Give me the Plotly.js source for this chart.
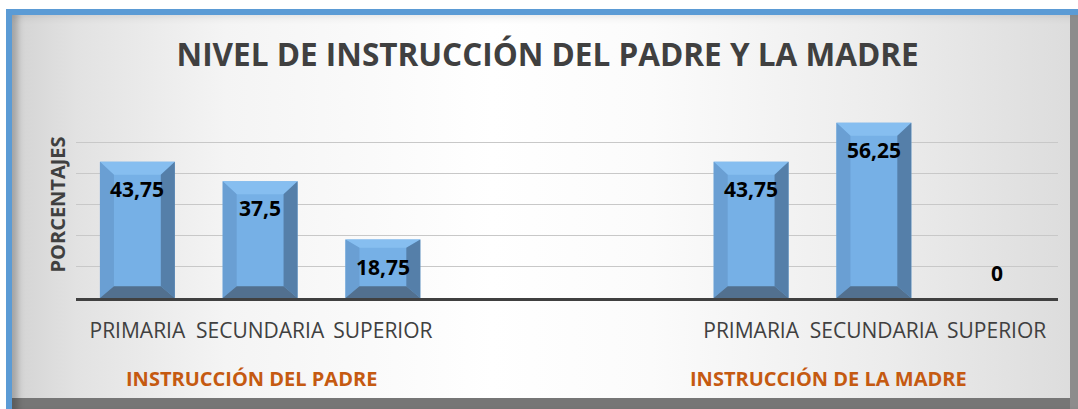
<!DOCTYPE html>
<html>
<head>
<meta charset="utf-8">
<script src="https://cdn.plot.ly/plotly-3.0.1.min.js"></script>
<style>
  html, body { margin:0; padding:0; background:#ffffff; }
  body { width:1078px; height:409px; position:relative; overflow:hidden; }
  #frame { position:absolute; left:6px; top:9px; width:1072px; height:400px; background:#5B9BD5; }
  #panel { position:absolute; left:6px; top:6px; right:0; bottom:0;
    background: linear-gradient(to right, #d3d3d3 0%, #e2e2e2 6%, #f4f4f4 20%, #ffffff 45%, #fbfbfb 60%, #ececec 82%, #dcdcdc 100%);
    box-shadow: inset 10px 0 6px -4px rgba(0,0,0,0.22), inset -8px 0 0 0 #8c8c8c, inset 0 -11px 0 0 #767676, inset 0 8px 6px -4px rgba(0,0,0,0.06);
  }
  #chart { position:absolute; left:0; top:0; width:1078px; height:409px; }
</style>
</head>
<body>
<div id="frame"><div id="panel"></div></div>
<div id="chart"></div>
<script>
// ---- data ----
const categories = ["PRIMARIA", "SECUNDARIA", "SUPERIOR", "", "", "PRIMARIA", "SECUNDARIA", "SUPERIOR"];
const padreValues = [43.75, 37.5, 18.75];
const madreValues = [43.75, 56.25, 0];
const groupLabels = ["INSTRUCCIÓN DEL PADRE", "INSTRUCCIÓN DE LA MADRE"];
const chartTitle = "NIVEL DE INSTRUCCIÓN DEL PADRE Y LA MADRE";
const yTitle = "PORCENTAJES";

// slot positions on the category axis (two empty slots between groups)
const padreX = [0, 1, 2];
const madreX = [5, 6, 7];
const xs = padreX.concat(madreX);
const vals = padreValues.concat(madreValues);
const tickX = xs;
const tickText = [categories[0], categories[1], categories[2], categories[5], categories[6], categories[7]];

// bevel geometry (in axis units)
const hw = 0.305, sx = 0.114, by = 3.8;
function poly(fn) {
  const X = [], Y = [];
  xs.forEach((x0, i) => {
    const v = vals[i];
    if (v <= 0) return;
    const ty = Math.min(4.2, v * 0.14);
    const g = {L: x0 - hw, R: x0 + hw, iL: x0 - hw + sx, iR: x0 + hw - sx, T: v, iT: v - ty, B: 0, iB: by};
    fn(g).forEach(p => { X.push(p[0]); Y.push(p[1]); });
    X.push(null); Y.push(null);
  });
  return {X, Y};
}
function bevelTrace(fn, color) {
  const p = poly(fn);
  return {type:'scatter', mode:'lines', x:p.X, y:p.Y, fill:'toself', fillcolor:color,
          line:{width:0, color:color}, hoverinfo:'skip', showlegend:false};
}

const traces = [
  {type:'bar', x:xs, y:vals, width:hw*2, marker:{color:'#76B0E6', line:{width:0}},
   hovertemplate:'%{y}<extra></extra>', showlegend:false},
  bevelTrace(g => [[g.L,g.T],[g.R,g.T],[g.iR,g.iT],[g.iL,g.iT],[g.L,g.T]], '#86BEF0'),
  bevelTrace(g => [[g.L,g.T],[g.iL,g.iT],[g.iL,g.iB],[g.L,g.B],[g.L,g.T]], '#6A9FD3'),
  bevelTrace(g => [[g.R,g.T],[g.R,g.B],[g.iR,g.iB],[g.iR,g.iT],[g.R,g.T]], '#557FA9'),
  bevelTrace(g => [[g.L,g.B],[g.R,g.B],[g.iR,g.iB],[g.iL,g.iB],[g.L,g.B]], '#52708F')
];

const annotations = [];
xs.forEach((x0, i) => {
  const v = vals[i];
  annotations.push({x:x0, y:v, xref:'x', yref:'y', text:String(v).replace('.', ','),
    showarrow:false, yanchor:'middle', yshift: v > 0 ? -27 : 25,
    font:{family:'Open Sans', size:21, color:'#000000', weight:'bold'}});
});
annotations.push({x:0.93, y:0, xref:'x', yref:'paper', yshift:-80, yanchor:'middle', showarrow:false,
  text:groupLabels[0], font:{family:'Open Sans', size:20, color:'#C55A11', weight:'bold'}});
annotations.push({x:5.63, y:0, xref:'x', yref:'paper', yshift:-80, yanchor:'middle', showarrow:false,
  text:groupLabels[1], font:{family:'Open Sans', size:20, color:'#C55A11', weight:'bold'}});

const layout = {
  width:1078, height:409,
  margin:{l:76, r:20, t:111, b:111, pad:0},
  paper_bgcolor:'rgba(0,0,0,0)', plot_bgcolor:'rgba(0,0,0,0)',
  title:{text:chartTitle, xref:'container', yref:'container', x:0.508, y:0.866, xanchor:'center', yanchor:'middle',
    font:{family:'Open Sans', size:31.5, color:'#404040', weight:'bold'}},
  xaxis:{range:[-0.5, 7.5], tickvals:tickX, ticktext:tickText, showgrid:false, zeroline:false,
    showline:true, linecolor:'#404040', linewidth:3, ticks:'', ticklabelstandoff:12,
    tickfont:{family:'Open Sans', size:21, color:'#404040'}, fixedrange:true},
  yaxis:{range:[0, 60], dtick:10, showgrid:true, gridcolor:'#c8c8c8', gridwidth:1, zeroline:false,
    showline:false, showticklabels:false, ticks:'', fixedrange:true,
    title:{text:yTitle, standoff:4, font:{family:'Open Sans', size:20, color:'#404040', weight:'bold'}}},
  annotations:annotations,
  bargap:0.39
};

Plotly.newPlot('chart', traces, layout, {displayModeBar:false, staticPlot:true});
</script>
</body>
</html>
